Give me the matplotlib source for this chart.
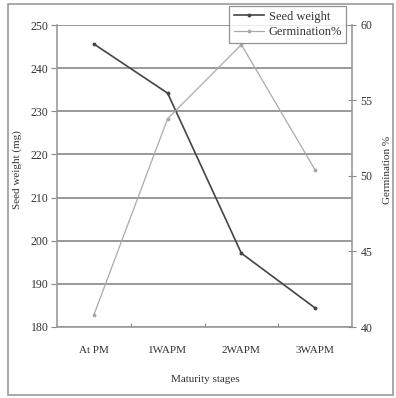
import matplotlib
matplotlib.use("Agg")
import matplotlib.pyplot as plt
from matplotlib.patches import Rectangle
from matplotlib.lines import Line2D

stages = ["At PM", "1WAPM", "2WAPM", "3WAPM"]
seed_weight = [245.6, 234.2, 197.1, 184.4]
germination = [40.8, 53.8, 58.7, 50.4]
left_ticks = [180, 190, 200, 210, 220, 230, 240, 250]
right_ticks = [40, 45, 50, 55, 60]

plt.rcParams['font.family'] = ['Liberation Serif', 'DejaVu Serif']
W, H = 396, 398
fig = plt.figure(figsize=(W/100, H/100), dpi=100)
fig.patch.set_facecolor('white')

def fx(px): return px / W
def fy(py): return 1 - py / H

ax = fig.add_axes([fx(57), fy(327), fx(352) - fx(57), fy(25) - fy(327)])
x = list(range(len(stages)))
ax.set_xlim(-0.5, len(stages) - 0.5)
ax.set_ylim(180, 250)
ax.set_yticks(left_ticks)
ax.set_yticklabels([str(t) for t in left_ticks], fontsize=8.5, color='#333333')
ax.set_xticks([i + 0.5 for i in range(len(stages) - 1)])
ax.set_xticklabels([])
ax.set_xticks(x, minor=True)
ax.set_xticklabels(stages, minor=True, fontsize=8, color='#333333')
ax.tick_params(axis='x', which='minor', length=0, pad=14)
ax.tick_params(axis='x', which='major', length=3, direction='in', color='#888888')
ax.tick_params(axis='y', length=4, direction='out', color='#888888', pad=2)
ax.grid(axis='y', color='#999999', linewidth=1.4)
for s in ['top', 'right']:
    ax.spines[s].set_visible(False)
ax.spines['left'].set_color('#999999')
ax.spines['bottom'].set_color('#999999')
ax.spines['left'].set_linewidth(1.2)
ax.spines['bottom'].set_linewidth(1.2)

l1, = ax.plot(x, seed_weight, color='#444444', linewidth=1.2, marker='o', markersize=1.8, zorder=3)
ax2 = ax.twinx()
ax2.set_ylim(40, 60)
ax2.set_yticks(right_ticks)
ax2.set_yticklabels([str(t) for t in right_ticks], fontsize=8.5, color='#333333')
ax2.tick_params(axis='y', length=6, direction='inout', color='#888888', pad=3)
for s in ['top', 'left', 'bottom']:
    ax2.spines[s].set_visible(False)
ax2.spines['right'].set_color('#999999')
ax2.spines['right'].set_linewidth(1.2)
l2, = ax2.plot(x, germination, color='#aaaaaa', linewidth=0.9, marker='o', markersize=1.8, zorder=3)

fig.text(fx(17), fy(170), "Seed weight (mg)", rotation=90, ha='center', va='center', fontsize=8, color='#333333')
fig.text(fx(388), fy(170), "Germination %", rotation=90, ha='center', va='center', fontsize=8, color='#333333')
fig.text(fx(205), fy(380), "Maturity stages", ha='center', va='center', fontsize=8, color='#333333')

fig.patches.append(Rectangle((fx(8), fy(395)), fx(393) - fx(8), fy(4) - fy(395),
                             transform=fig.transFigure, fill=False, edgecolor='#999999', linewidth=1.2))

leg = fig.legend([l1, l2], ["Seed weight", "Germination%"], loc='upper left',
                 bbox_to_anchor=(fx(223), fy(0)), fontsize=9, frameon=True, fancybox=False,
                 edgecolor='#777777', borderpad=0.35, handlelength=2.4, labelspacing=0.3,
                 handletextpad=0.4)
leg.get_frame().set_linewidth(0.9)
for t in leg.get_texts():
    t.set_color('#333333')

fig.savefig("out.png", dpi=100, facecolor='white')
